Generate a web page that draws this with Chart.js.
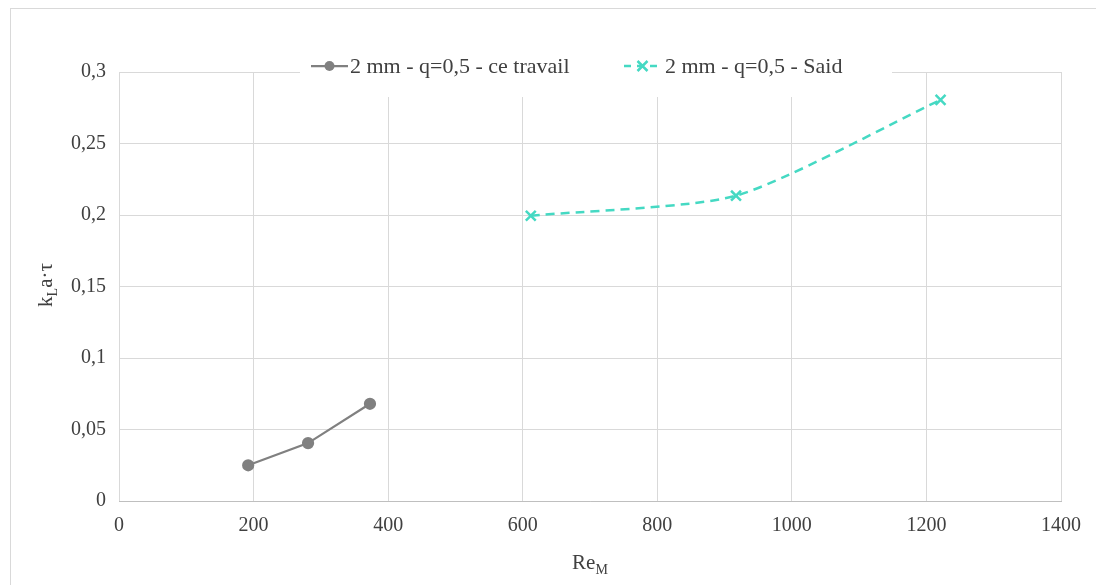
<!DOCTYPE html>
<html>
<head>
<meta charset="utf-8">
<script src="https://cdn.jsdelivr.net/npm/chart.js@4"></script>
<style>
  html,body{margin:0;padding:0;background:#fff}
  #wrap{width:1096px;height:585px;position:relative}
</style>
</head>
<body>
<div id="wrap"><canvas id="chart"></canvas></div>
<script>
// values
const ceTravailRe = [192, 281, 373];
const ceTravailKla = [0.025, 0.0405, 0.068];
const saidRe = [612, 917, 1221];
const saidKla = [0.1995, 0.2135, 0.2805];
const seriesLabels = ['2 mm - q=0,5 - ce travail', '2 mm - q=0,5 - Said'];

const FONT = "'Liberation Serif', 'DejaVu Serif', serif";
const grey = '#808080';
const teal = '#45d9c3';

function toPoints(xs, ys){ return xs.map((x,i)=>({x, y:ys[i]})) }
function fmtComma(v){ return String(Math.round(v*100)/100).replace('.',',') }

// chart frame + white legend box + subscript axis titles
const excelBits = {
  id:'excelBits',
  beforeDraw(chart){
    const c = chart.ctx;
    c.save();
    c.strokeStyle = '#d9d9d9'; c.lineWidth = 1;
    c.strokeRect(10.5, 8.5, 1100, 600);
    c.restore();
  },
  beforeDatasetsDraw(chart){
    // legend box hides the gridlines under it
    const c = chart.ctx;
    c.save();
    c.fillStyle = '#fff';
    c.fillRect(300, 46, 592, 51);
    c.restore();
  },
  afterDraw(chart){
    const c = chart.ctx;
    const ds = chart.data.datasets;
    c.save();
    c.font = '22px ' + FONT;
    c.textBaseline = 'middle';
    // legend item 1
    const ly = 66;
    c.strokeStyle = ds[0].borderColor; c.lineWidth = 2.25; c.setLineDash([]);
    c.beginPath(); c.moveTo(311, ly); c.lineTo(348, ly); c.stroke();
    c.fillStyle = ds[0].pointBackgroundColor;
    c.beginPath(); c.arc(329.5, ly, 5, 0, Math.PI*2); c.fill();
    c.fillStyle = '#404040';
    c.fillText(ds[0].label, 350, ly + 1);
    // legend item 2
    c.strokeStyle = ds[1].borderColor; c.lineWidth = 2.5; c.setLineDash([7,6]);
    c.beginPath(); c.moveTo(624, ly); c.lineTo(662, ly); c.stroke();
    c.setLineDash([]);
    c.beginPath();
    c.moveTo(637.5, ly-5); c.lineTo(647.5, ly+5);
    c.moveTo(647.5, ly-5); c.lineTo(637.5, ly+5);
    c.stroke();
    c.fillText(ds[1].label, 665, ly + 1);

    c.fillStyle = '#404040';
    c.textBaseline = 'alphabetic';
    // x title: Re_M
    c.font = '21px ' + FONT;
    const wRe = c.measureText('Re').width;
    c.font = '14px ' + FONT;
    const wM = c.measureText('M').width;
    const x0 = 590 - (wRe + wM)/2;
    c.font = '21px ' + FONT; c.fillText('Re', x0, 569);
    c.font = '14px ' + FONT; c.fillText('M', x0 + wRe, 574);

    // y title: k_L a·τ rotated
    c.translate(52, 285);
    c.rotate(-Math.PI/2);
    c.font = '21px ' + FONT;
    const wk = c.measureText('k').width;
    const wr = c.measureText('a·τ').width;
    c.font = '14px ' + FONT;
    const wl = c.measureText('L').width;
    const s = -(wk + wl + wr)/2;
    c.font = '21px ' + FONT; c.fillText('k', s, 0);
    c.font = '14px ' + FONT; c.fillText('L', s + wk, 5);
    c.font = '21px ' + FONT; c.fillText('a·τ', s + wk + wl, 0);
    c.restore();
  }
};

new Chart(document.getElementById('chart'), {
  type:'line',
  data:{
    datasets:[
      {
        label:seriesLabels[0],
        data:toPoints(ceTravailRe, ceTravailKla),
        borderColor:grey, backgroundColor:grey,
        pointBackgroundColor:grey, pointBorderColor:grey,
        borderWidth:2.25, pointRadius:5, pointStyle:'circle',
        tension:0
      },
      {
        label:seriesLabels[1],
        data:toPoints(saidRe, saidKla),
        borderColor:teal, backgroundColor:teal,
        pointBackgroundColor:teal, pointBorderColor:teal,
        borderWidth:2.5, borderDash:[9,6],
        pointRadius:7, pointStyle:'crossRot', pointBorderWidth:2.5,
        tension:0.22
      }
    ]
  },
  options:{
    responsive:true, maintainAspectRatio:false, animation:false,
    layout:{padding:{left:10, right:35, top:72, bottom:0}},
    plugins:{legend:{display:false}, tooltip:{enabled:false}},
    scales:{
      x:{
        type:'linear', min:0, max:1400,
        ticks:{stepSize:200, padding:13, color:'#404040', font:{family:FONT, size:20},
          callback:v=>String(v)},
        grid:{color:'#d9d9d9', drawTicks:false},
        border:{color:'#bfbfbf'},
        afterFit(s){ s.height = 84 }
      },
      y:{
        min:0, max:0.3,
        ticks:{stepSize:0.05, padding:13, color:'#404040', font:{family:FONT, size:20},
          callback:v=>fmtComma(v)},
        grid:{color:'#d9d9d9', drawTicks:false},
        border:{display:false},
        afterFit(s){ s.width = 109 }
      }
    }
  },
  plugins:[excelBits]
});
</script>
</body>
</html>
